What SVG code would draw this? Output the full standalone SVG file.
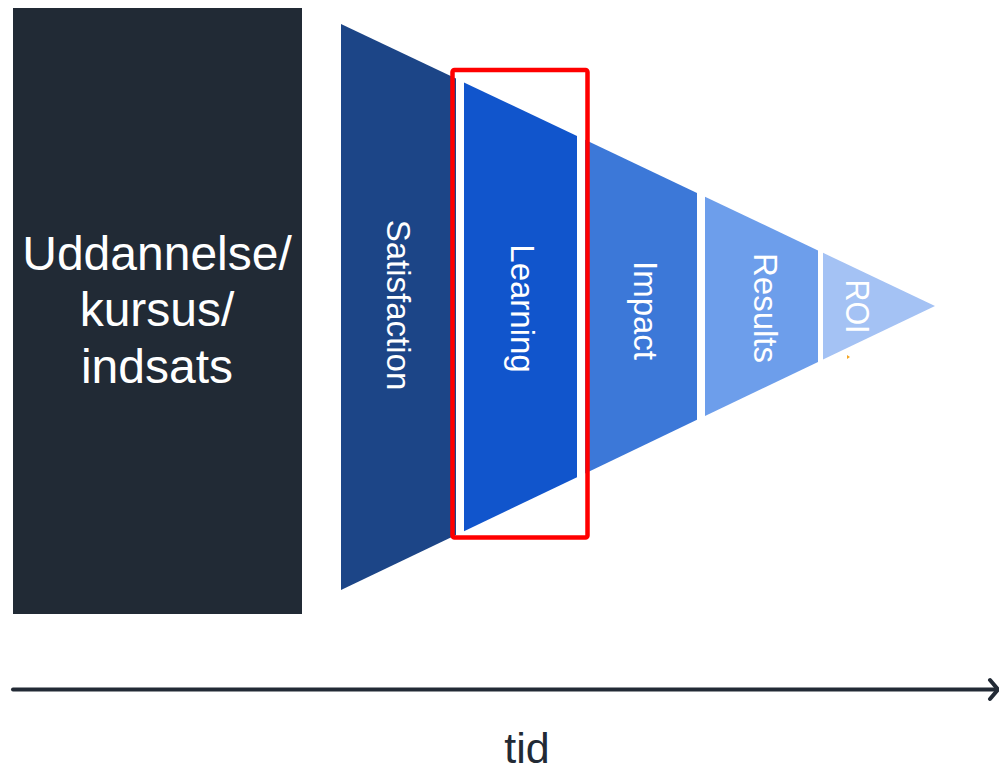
<svg xmlns="http://www.w3.org/2000/svg" width="999" height="772" viewBox="0 0 999 772">
  <style>
    .lbl { font-family: "Liberation Sans", Arial, sans-serif; fill: #ffffff; }
    .seg-lbl { font-size: 33px; text-anchor: middle; }
    .box-lbl { font-size: 48px; text-anchor: middle; }
    .axis { stroke: #222a35; stroke-width: 4; fill: none; stroke-linecap: round; stroke-linejoin: round; }
  </style>
  <rect width="999" height="772" fill="#ffffff"/>

  <g id="node-intervention">
    <rect x="13" y="8" width="289" height="606" fill="#212a35"/>
    <text class="lbl box-lbl" x="157" y="270">Uddannelse/</text>
    <text class="lbl box-lbl" x="157" y="326">kursus/</text>
    <text class="lbl box-lbl" x="157" y="383">indsats</text>
  </g>

  <g id="node-satisfaction">
    <polygon points="341,24 456,78.6 456,535 341,590" fill="#1c4587"/>
    <text class="lbl seg-lbl" transform="translate(387,305) rotate(90)" x="0" y="0">Satisfaction</text>
  </g>

  <g id="node-learning">
    <polygon points="464,82.4 577,136 577,477.2 464,531.2" fill="#1155cc"/>
    <text class="lbl seg-lbl" transform="translate(511,308.5) rotate(90)" x="0" y="0">Learning</text>
  </g>

  <g id="node-impact">
    <polygon points="585,139.8 697,193 697,419.8 585,473.4" fill="#3c78d8"/>
    <text class="lbl seg-lbl" transform="translate(634,310.5) rotate(90)" x="0" y="0">Impact</text>
  </g>

  <g id="node-results">
    <polygon points="705,196.8 818,250.4 818,362 705,416" fill="#6d9eeb"/>
    <text class="lbl seg-lbl" transform="translate(754,308) rotate(90)" x="0" y="0">Results</text>
  </g>

  <g id="node-roi">
    <polygon points="823,252.8 935,306 823,359.6" fill="#a4c2f4"/>
    <text class="lbl seg-lbl" transform="translate(846,306.5) rotate(90)" x="0" y="0" textLength="54" lengthAdjust="spacingAndGlyphs">ROI</text>
    <polygon points="847,355 850,357 847,359" fill="#f5a623"/>
  </g>

  <g id="node-highlight">
    <rect x="452.5" y="70" width="135" height="467.5" rx="2" fill="none" stroke="#ff0000" stroke-width="4.5"/>
  </g>

  <g id="connectors">
    <line class="axis" x1="13" y1="689.5" x2="996" y2="689.5"/>
    <polyline class="axis" points="990,680 998,689.5 990,699"/>
  </g>

  <g id="node-tid">
    <text x="527" y="763" font-family="Liberation Sans, Arial, sans-serif" font-size="43" fill="#222a35" text-anchor="middle">tid</text>
  </g>
</svg>
